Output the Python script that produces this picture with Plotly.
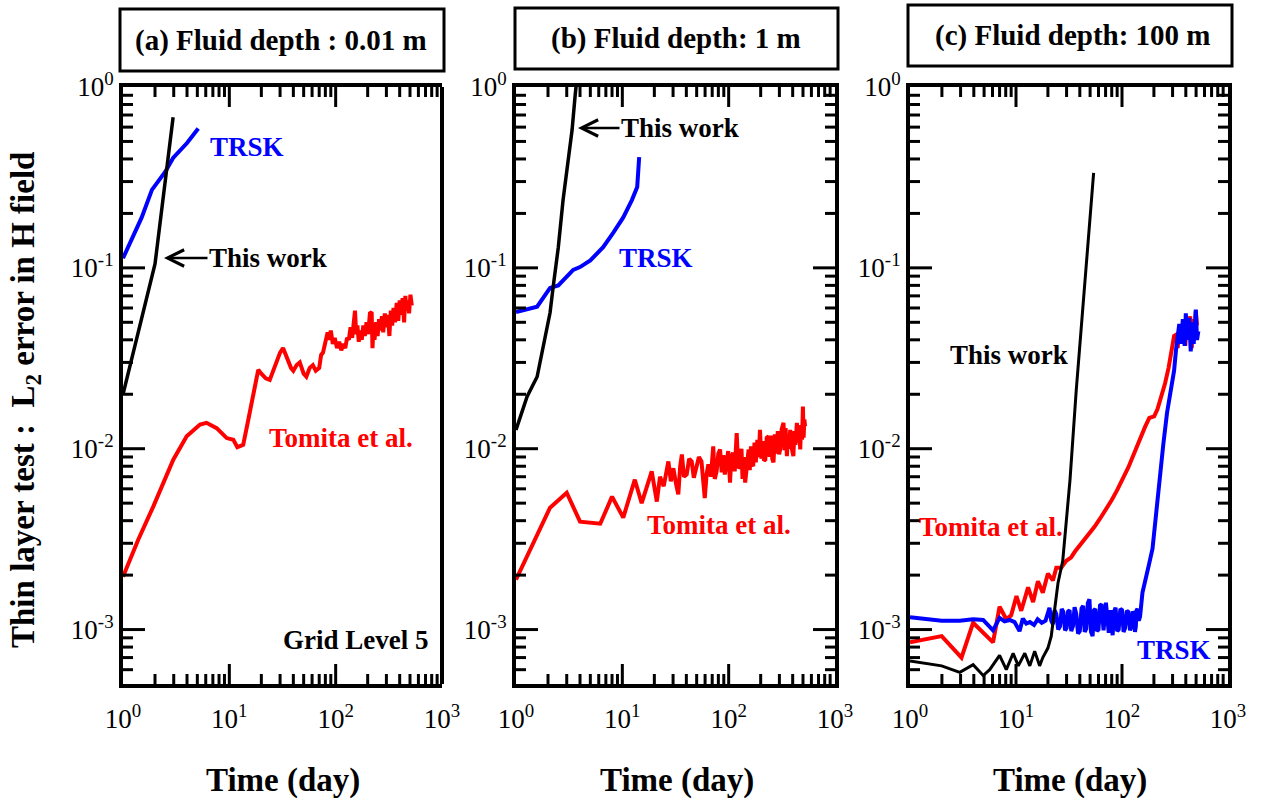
import plotly.graph_objects as go
import math

# ---------------- data ----------------
# Panel (a): fluid depth 0.01 m
a_this_t = [1, 2.0, 2.96]
a_this_v = [0.02, 0.105, 0.68]
a_trsk_t = [1, 1.5, 1.87, 2.5, 2.96, 4.0, 5.1]
a_trsk_v = [0.113, 0.19, 0.27, 0.34, 0.405, 0.49, 0.59]
a_tom_t = [1, 1.39, 1.93, 2.97, 3.97, 5.3, 6.1, 7.6, 9.45, 10.9, 11.9, 13.5, 15.1, 18.7, 20, 22, 24, 26, 28, 30,
           32, 34, 36, 38, 40, 43, 46, 50, 53, 57, 61, 65, 70, 73, 76, 80, 84, 87, 90, 94,
           98, 103, 108, 113, 118, 123, 128, 133, 138, 143, 148, 152, 156, 160, 165, 170, 176, 182, 188, 195,
           202, 210, 218, 222, 226, 232, 240, 248, 256, 264, 272, 280, 290, 300, 310, 320, 330, 340, 350, 362,
           375, 388, 400, 413, 426, 440, 452, 465, 478, 490, 505, 520]
a_tom_v = [0.00196, 0.00314, 0.0048, 0.0087, 0.0117, 0.0136, 0.0139, 0.013, 0.01145, 0.0112,
           0.0102, 0.0105, 0.0145, 0.0273, 0.026, 0.0245, 0.024, 0.027, 0.031, 0.034,
           0.036, 0.033, 0.030, 0.028, 0.027, 0.029, 0.030, 0.026, 0.025, 0.028,
           0.029, 0.027, 0.028, 0.033, 0.034, 0.038, 0.044, 0.040, 0.045, 0.038,
           0.041, 0.036, 0.039, 0.035, 0.038, 0.036, 0.041, 0.040, 0.047, 0.041,
           0.052, 0.058, 0.043, 0.048, 0.039, 0.045, 0.040, 0.048, 0.042, 0.050,
           0.043, 0.056, 0.057, 0.036, 0.046, 0.040, 0.050, 0.042, 0.052, 0.045,
           0.054, 0.044, 0.056, 0.047, 0.055, 0.042, 0.058, 0.048, 0.060, 0.050,
           0.064, 0.051, 0.066, 0.055, 0.068, 0.050, 0.070, 0.058, 0.066, 0.056,
           0.071, 0.062]

# Panel (b): fluid depth 1 m
b_this_t = [1, 1.27, 1.58, 2.09, 2.23, 2.5, 2.77, 3.1, 3.37, 3.6, 3.7]
b_this_v = [0.0127, 0.0194, 0.025, 0.0564, 0.0775, 0.13, 0.237, 0.38, 0.58, 0.9, 1.05]
b_trsk_t = [1, 1.58, 2.09, 2.5, 3.45, 4.0, 5.0, 6.6, 8.2, 10.2, 12.3, 13.8, 14.4]
b_trsk_v = [0.057, 0.061, 0.0775, 0.08, 0.0975, 0.101, 0.11, 0.13, 0.156, 0.19, 0.237, 0.28, 0.41]
b_tom_t = [1, 2.09, 3.0, 4.0, 6.2, 8.0, 10.2, 13.1, 15.2, 18.9,
           21.1, 22.6, 24.5, 27.1, 28.6, 30.2, 32, 33.6, 35, 36.3,
           38, 40.3, 42.5, 44.9, 47, 49.9, 52.5, 55.5, 57.5, 59.6,
           62, 64.4, 68, 71.6, 74, 77, 80, 83, 86, 89,
           92, 96, 99, 103, 106, 110, 114, 119, 123, 128,
           132, 135, 139, 143, 148, 154, 158, 162, 166, 170,
           175, 180, 186, 192, 197, 203, 210, 215, 221, 228,
           237, 243, 250, 257, 264, 272, 280, 290, 298, 305,
           315, 328, 335, 343, 353, 360, 370, 379, 390, 406,
           415, 425, 438, 450, 461, 471, 480, 490, 499, 507,
           515, 523]
b_tom_v = [0.00189, 0.00472, 0.00571, 0.00395, 0.00385, 0.00543, 0.00416, 0.00674, 0.0050, 0.0075,
           0.0051, 0.0070, 0.0062, 0.0085, 0.0066, 0.0078, 0.0064, 0.0056, 0.0080, 0.0093,
           0.0070, 0.0072, 0.0088, 0.0085, 0.0069, 0.0078, 0.0090, 0.0085, 0.0065, 0.00534,
           0.0072, 0.0082, 0.0070, 0.0103, 0.0068, 0.0075, 0.0094, 0.0099, 0.0074, 0.0092,
           0.0072, 0.0084, 0.0097, 0.0065, 0.0090, 0.0095, 0.0075, 0.0122, 0.0078, 0.0080,
           0.0100, 0.0068, 0.0090, 0.0065, 0.0085, 0.0099, 0.0076, 0.0103, 0.0082, 0.0080,
           0.0108, 0.0084, 0.0112, 0.0090, 0.0127, 0.0088, 0.0110, 0.0086, 0.0087, 0.0115,
           0.0117, 0.0090, 0.0118, 0.0088, 0.0084, 0.0120, 0.0094, 0.0125, 0.0093, 0.0099,
           0.0128, 0.0139, 0.0098, 0.0130, 0.0091, 0.0118, 0.0100, 0.0127, 0.0102, 0.0091,
           0.0125, 0.0105, 0.0139, 0.0108, 0.0130, 0.0099, 0.0135, 0.0112, 0.0171, 0.0115,
           0.0145, 0.0133]

# Panel (c): fluid depth 100 m
c_this_t = [1, 1.99, 2.95, 3.94, 4.9, 5.65, 7.0, 8.1, 9.4, 10.5, 12.1, 13.5, 15.0, 16.7, 17.9, 20.0,
            21.5, 22.6, 24.9, 27.6, 32.3, 37, 46, 54]
c_this_v = [0.00067, 0.00063, 0.00058, 0.00064, 0.000557, 0.0006, 0.00072, 0.0006, 0.00074, 0.00063,
            0.00074, 0.00063, 0.00076, 0.00063, 0.0007, 0.00079, 0.00092, 0.00119, 0.00181, 0.0024,
            0.0067, 0.021, 0.1, 0.335]
c_tom_t = [1, 1.99, 3.06, 3.94, 6.07, 7.0, 8.1, 9.0, 10.1, 11.2,
           13, 14.5, 16.1, 17.9, 20, 22.3, 24, 26.7, 29.8, 33,
           36, 39.7, 44, 49, 55, 62, 70.7, 80, 90, 101,
           115, 130, 146, 165, 181, 201, 216, 235, 255, 275,
           295, 310, 323, 335, 350, 365, 380, 395, 410, 425,
           440, 455, 470, 485, 497, 510]
c_tom_v = [0.00085, 0.00092, 0.0007, 0.00109, 0.00085, 0.00134, 0.00114, 0.0012, 0.00153, 0.00127,
           0.00171, 0.00142, 0.00185, 0.0016, 0.00204, 0.00187, 0.0022, 0.0022, 0.0024, 0.0025,
           0.0027, 0.0029, 0.0031, 0.0034, 0.0037, 0.0041, 0.0046, 0.0052, 0.0059, 0.0067,
           0.0079, 0.0094, 0.0112, 0.0132, 0.0148, 0.0151, 0.0165, 0.0195, 0.023, 0.028,
           0.036, 0.042, 0.0426, 0.036, 0.048, 0.038, 0.052, 0.037, 0.050, 0.040,
           0.054, 0.036, 0.052, 0.041, 0.058, 0.048]
c_trsk_t = [1, 1.99, 2.95, 3.94, 4.9, 6.07, 7.0, 7.8, 8.7, 9.7,
            10.8, 11.6, 12.5, 13.5, 14.8, 16, 17.5, 19,
            20.7, 21.5, 22.3, 23.1, 24, 25, 26, 27, 28, 29,
            30, 31, 32, 33.2, 34.5, 35.7, 37, 38.5, 40, 41.5,
            43, 44.5, 46, 47.6, 49.3, 51, 52.8, 54.5, 56, 58,
            60, 62, 64, 67, 70.5, 73, 75, 78, 81.6, 84,
            87, 90, 93, 96.5, 100, 103.5, 107, 111, 115, 119,
            123, 126.5, 130, 132.5, 135, 137.5, 140, 144, 148,
            156, 168, 180, 194, 210, 225, 245, 266, 285, 298,
            310, 323, 333, 347, 360, 375, 390, 400, 415, 430,
            445, 460, 475, 490, 497, 510, 525]
c_trsk_v = [0.00117, 0.00112, 0.00112, 0.00114, 0.00113, 0.00099, 0.00116, 0.00111, 0.00113, 0.00110,
            0.00098, 0.00115, 0.00108, 0.0011, 0.00106, 0.00114, 0.00109, 0.00112,
            0.00132, 0.00112, 0.00107, 0.00128, 0.00122, 0.00100, 0.00104, 0.00130, 0.00125, 0.00099,
            0.00102, 0.00126, 0.00128, 0.00098, 0.00105, 0.00133, 0.00122, 0.00095, 0.00098, 0.00131,
            0.00135, 0.00097, 0.00101, 0.00140, 0.00147, 0.00097, 0.00092, 0.00128, 0.00130, 0.00098,
            0.00100, 0.00136, 0.00138, 0.00099, 0.00141, 0.00110, 0.00096, 0.00128, 0.00093, 0.00125,
            0.00132, 0.00098, 0.00100, 0.00130, 0.00128, 0.00097, 0.00102, 0.00127, 0.00125, 0.00099,
            0.00104, 0.00126, 0.00122, 0.00097, 0.00104, 0.00128, 0.00130, 0.00112, 0.00118,
            0.0016, 0.0019, 0.0023, 0.0028, 0.0045, 0.0067, 0.0105, 0.0158, 0.020, 0.023,
            0.027, 0.035, 0.040, 0.049, 0.038, 0.052, 0.037, 0.056, 0.040, 0.053,
            0.0345, 0.050, 0.038, 0.055, 0.0587, 0.040, 0.0446]

panel_titles = ["(a) Fluid depth : 0.01 m", "(b) Fluid depth: 1 m", "(c) Fluid depth: 100 m"]
x_tickvals = [1, 10, 100, 1000]
x_ticktext = ["10<sup>0</sup>", "10<sup>1</sup>", "10<sup>2</sup>", "10<sup>3</sup>"]
y_tickvals = [0.001, 0.01, 0.1, 1]
y_ticktext = ["10<sup>-3</sup>", "10<sup>-2</sup>", "10<sup>-1</sup>", "10<sup>0</sup>"]

series = [(a_tom_t, a_tom_v), (a_trsk_t, a_trsk_v), (a_this_t, a_this_v),
          (b_tom_t, b_tom_v), (b_trsk_t, b_trsk_v), (b_this_t, b_this_v),
          (c_tom_t, c_tom_v), (c_trsk_t, c_trsk_v), (c_this_t, c_this_v)]
for t, v in series:
    assert len(t) == len(v), (len(t), len(v))

# ---------------- figure ----------------
W, H = 1261, 800
def px(x):
    return x / W
def py(y):
    return 1 - y / H

RED, BLUE, BLACK = "#ff0000", "#0000ff", "#000000"
SERIF = "Liberation Serif"

fig = go.Figure()

def add(t, v, color, ax, width=4):
    fig.add_trace(go.Scatter(x=t, y=v, mode="lines", line=dict(color=color, width=width),
                             xaxis="x" + ax, yaxis="y" + ax, hoverinfo="skip"))

add(a_tom_t, a_tom_v, RED, "")
add(a_trsk_t, a_trsk_v, BLUE, "")
add(a_this_t, a_this_v, BLACK, "", 3.5)
add(b_tom_t, b_tom_v, RED, "2")
add(b_trsk_t, b_trsk_v, BLUE, "2")
add(b_this_t, b_this_v, BLACK, "2", 3.5)
add(c_tom_t, c_tom_v, RED, "3")
add(c_trsk_t, c_trsk_v, BLUE, "3")
add(c_this_t, c_this_v, BLACK, "3", 3)

tickfont = dict(family=SERIF, size=27, color="black")
domains = [(123, 442), (516, 835), (910, 1228)]
PLOT_TOP, PLOT_BOTTOM = 87, 684
plot_h = PLOT_BOTTOM - PLOT_TOP
ydom = [py(PLOT_BOTTOM), py(PLOT_TOP)]
XMIN_LOG, XMAX_LOG = 0, 3
ymin = 5e-4
YMIN_LOG, YMAX_LOG = math.log10(ymin), 0

layout = dict(width=W, height=H, margin=dict(l=0, r=0, t=0, b=0, autoexpand=False),
              paper_bgcolor="white", plot_bgcolor="white", showlegend=False)
for i, (x0, x1) in enumerate(domains):
    sfx = "" if i == 0 else str(i + 1)
    layout["xaxis" + sfx] = dict(
        type="log", range=[XMIN_LOG, XMAX_LOG], domain=[px(x0), px(x1)], anchor="y" + sfx, automargin=False,
        showline=True, linewidth=4, linecolor="black", mirror=True, ticks="",
        tickmode="array", tickvals=x_tickvals, ticktext=x_ticktext, tickfont=tickfont,
        showgrid=False, zeroline=False, ticklabelstandoff=8)
    layout["yaxis" + sfx] = dict(
        type="log", range=[YMIN_LOG, YMAX_LOG], domain=ydom, anchor="x" + sfx, automargin=False,
        showline=True, linewidth=4, linecolor="black", mirror=(i != 0), ticks="",
        tickmode="array", tickvals=y_tickvals, ticktext=y_ticktext, tickfont=tickfont,
        showgrid=False, zeroline=False)
fig.update_layout(**layout)

# ---- tick marks (inside; majors at decades, minors at 2..9), positioned as fractions of each axis ----
def xfrac(v):
    return (math.log10(v) - XMIN_LOG) / (XMAX_LOG - XMIN_LOG)
def yfrac(v):
    return (math.log10(v) - YMIN_LOG) / (YMAX_LOG - YMIN_LOG)

x_major = [10, 100]
x_minor = [m * 10 ** k for k in range(3) for m in range(2, 10)]
y_major = [0.001, 0.01, 0.1]
y_minor = [m * 10.0 ** k for k in range(-4, 0) for m in range(2, 10) if m * 10.0 ** k > ymin * 1.01]
MAJ_X, MAJ_Y, MIN_LEN = 20, 22, 10
tick_line = dict(color="black", width=3)
shapes = []
for i, (x0, x1) in enumerate(domains):
    sfx = "" if i == 0 else str(i + 1)
    xd = "x%s domain" % sfx
    yd = "y%s domain" % sfx
    plot_w = x1 - x0
    for vals, L in ((x_major, MAJ_X), (x_minor, MIN_LEN)):
        f = L / plot_h
        for v in vals:
            xf = xfrac(v)
            shapes.append(dict(type="line", xref=xd, yref=yd, x0=xf, x1=xf, y0=0, y1=f, line=tick_line))
            shapes.append(dict(type="line", xref=xd, yref=yd, x0=xf, x1=xf, y0=1, y1=1 - f, line=tick_line))
    for vals, L in ((y_major, MAJ_Y), (y_minor, MIN_LEN)):
        f = L / plot_w
        for v in vals:
            yf = yfrac(v)
            shapes.append(dict(type="line", xref=xd, yref=yd, x0=0, x1=f, y0=yf, y1=yf, line=tick_line))
            if i != 0:
                shapes.append(dict(type="line", xref=xd, yref=yd, x0=1, x1=1 - f, y0=yf, y1=yf, line=tick_line))
# right border of panel (a) (line only, no ticks there in the original)
shapes.append(dict(type="line", xref="x domain", yref="y domain", x0=1, x1=1, y0=0, y1=1,
                   line=dict(color="black", width=4)))

# title boxes
boxes = [(120, 444, 9, 71), (515, 838, 8, 69), (908, 1232, 5, 66)]
for (x0, x1, y0, y1) in boxes:
    shapes.append(dict(type="rect", xref="paper", yref="paper", x0=px(x0), x1=px(x1), y0=py(y1), y1=py(y0),
                       line=dict(color="black", width=3), fillcolor="rgba(0,0,0,0)"))
fig.update_layout(shapes=shapes)

title_cx = [281, 676, 1073]
for (x0, x1, y0, y1), title, cx in zip(boxes, panel_titles, title_cx):
    fig.add_annotation(xref="paper", yref="paper", x=px(cx), y=py((y0 + y1) / 2), text="<b>%s</b>" % title,
                       showarrow=False, font=dict(family=SERIF, size=29, color="black"),
                       xanchor="center", yanchor="middle")

def label(x, y, text, color, size=27, anchor="left"):
    fig.add_annotation(xref="paper", yref="paper", x=px(x), y=py(y), text="<b>%s</b>" % text,
                       showarrow=False, font=dict(family=SERIF, size=size, color=color),
                       xanchor=anchor, yanchor="middle")

def arrow_label(x_head, y, x_text, text):
    fig.add_annotation(xref="paper", yref="paper", x=px(x_head), y=py(y), text="<b>%s</b>" % text,
                       showarrow=True, ax=(x_text - x_head), ay=0, arrowhead=5, arrowsize=1.3,
                       arrowwidth=2.5, arrowcolor="black", standoff=0, startstandoff=0,
                       font=dict(family=SERIF, size=27, color="black"))

# panel (a)
label(208, 147, "TRSK", BLUE)
arrow_label(164, 258, 268, "This work")
label(267, 438, "Tomita et al.", RED)
label(430, 640, "Grid Level 5", BLACK, anchor="right")
# panel (b)
arrow_label(578, 128, 680, "This work")
label(617, 258, "TRSK", BLUE)
label(645, 525, "Tomita et al.", RED)
# panel (c)
label(948, 355, "This work", BLACK)
label(917, 527, "Tomita et al.", RED)
label(1135, 650, "TRSK", BLUE)

# axis titles
for cx in [283, 677, 1070]:
    fig.add_annotation(xref="paper", yref="paper", x=px(cx), y=py(780), text="<b>Time (day)</b>",
                       showarrow=False, font=dict(family=SERIF, size=33, color="black"),
                       xanchor="center", yanchor="middle")
fig.add_annotation(xref="paper", yref="paper", x=px(25), y=py(400),
                   text="<b>Thin layer test :&nbsp;&nbsp;L<sub>2</sub> error in H field</b>",
                   showarrow=False, textangle=-90, font=dict(family=SERIF, size=33, color="black"),
                   xanchor="center", yanchor="middle")

fig.write_html("out.html")
